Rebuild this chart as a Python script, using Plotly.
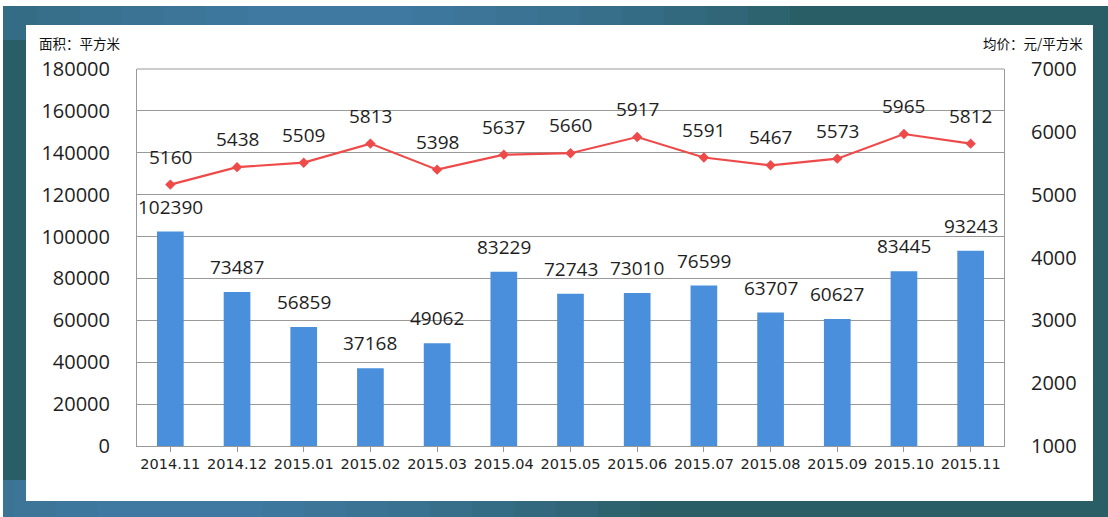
import plotly.graph_objects as go

months = ["2014.11", "2014.12", "2015.01", "2015.02", "2015.03", "2015.04", "2015.05",
          "2015.06", "2015.07", "2015.08", "2015.09", "2015.10", "2015.11"]
area = [102390, 73487, 56859, 37168, 49062, 83229, 72743, 73010, 76599, 63707, 60627, 83445, 93243]
price = [5160, 5438, 5509, 5813, 5398, 5637, 5660, 5917, 5591, 5467, 5573, 5965, 5812]

left_ticks = [0, 20000, 40000, 60000, 80000, 100000, 120000, 140000, 160000, 180000]
right_ticks = [1000, 2000, 3000, 4000, 5000, 6000, 7000]

FONT = "Open Sans, Noto Sans CJK SC, sans-serif"
BAR_C = "#4a8fdc"
LINE_C = "#ee4a4a"
TXT = "#1e1e1e"

W, H = 1108, 517
L, R, T, B = 137, 104, 69, 71
PW, PH = W - L - R, H - T - B


def px(x):
    return (x - L) / PW


def py(y):
    return (H - B - y) / PH


fig = go.Figure()
fig.add_trace(go.Bar(x=months, y=area, marker=dict(color=BAR_C, line=dict(width=0)),
                     yaxis="y", showlegend=False, hoverinfo="skip"))
fig.add_trace(go.Scatter(x=months, y=price, mode="lines+markers", yaxis="y2",
                         line=dict(color=LINE_C, width=2.2),
                         marker=dict(symbol="diamond", size=8, color=LINE_C),
                         showlegend=False, hoverinfo="skip"))

annotations = []
for i, v in enumerate(area):
    annotations.append(dict(x=i, y=v, xref="x", yref="y", text=str(v), showarrow=False,
                            yshift=25, font=dict(family=FONT, size=19, color=TXT)))
for i, v in enumerate(price):
    annotations.append(dict(x=i, y=v, xref="x", yref="y2", text=str(v), showarrow=False,
                            yshift=28, font=dict(family=FONT, size=19, color=TXT)))
annotations.append(dict(x=px(37), y=py(43), xref="paper", yref="paper", text="面积：平方米",
                        showarrow=False, xanchor="left", yanchor="middle",
                        font=dict(family="Noto Sans CJK SC", size=13.5, color="#111111")))
annotations.append(dict(x=px(1085), y=py(43), xref="paper", yref="paper", text="均价：元/平方米",
                        showarrow=False, xanchor="right", yanchor="middle",
                        font=dict(family="Noto Sans CJK SC", size=13.5, color="#111111")))

shapes = [
    # dark frame
    dict(type="rect", xref="paper", yref="paper", x0=px(3), x1=px(W), y0=py(H), y1=py(6),
         fillcolor="#2a5e66", line=dict(width=0), layer="below"),
]
# soft blue glow at top (centred ~x=330) and bottom (centred ~x=180)
for k in range(10):
    half = 460 - k * 42
    op = 0.1
    shapes.append(dict(type="rect", xref="paper", yref="paper", x0=px(max(3, 330 - half)),
                       x1=px(330 + half), y0=py(40), y1=py(6), fillcolor="#4a88c4",
                       line=dict(width=0), layer="below", opacity=op))
    shapes.append(dict(type="rect", xref="paper", yref="paper", x0=px(max(3, 180 - half)),
                       x1=px(180 + half), y0=py(H), y1=py(480), fillcolor="#4a88c4",
                       line=dict(width=0), layer="below", opacity=op))
shapes += [
    dict(type="rect", xref="paper", yref="paper", x0=px(26), x1=px(1093),
         y0=py(501), y1=py(25), fillcolor="white", line=dict(width=0), layer="below"),
    dict(type="line", xref="paper", yref="paper", x0=0, x1=1, y0=1, y1=1,
         line=dict(color="#999999", width=1)),
]

fig.update_layout(
    width=W, height=H,
    margin=dict(l=L, r=R, t=T, b=B),
    paper_bgcolor="white",
    plot_bgcolor="rgba(0,0,0,0)",
    bargap=0.6,
    hovermode=False,
    font=dict(family=FONT, color=TXT),
    xaxis=dict(type="category", showline=True, linecolor="#999999", linewidth=1,
               ticks="outside", ticklen=5, tickcolor="#999999",
               tickfont=dict(family="DejaVu Sans", size=14.5, color=TXT), showgrid=False,
               range=[-0.5, len(months) - 0.5]),
    yaxis=dict(range=[0, 180000], tickvals=left_ticks, ticktext=[str(t) for t in left_ticks],
               showgrid=True, gridcolor="#999999", gridwidth=1, showline=True,
               linecolor="#999999", zeroline=False, ticks="", ticklabelstandoff=22,
               tickfont=dict(size=20, color=TXT)),
    yaxis2=dict(range=[1000, 7000], tickvals=right_ticks, ticktext=[str(t) for t in right_ticks],
                overlaying="y", side="right", showgrid=False, showline=True,
                linecolor="#999999", zeroline=False, ticks="", ticklabelstandoff=22,
                tickfont=dict(size=20, color=TXT)),
    annotations=annotations,
    shapes=shapes,
)

fig.write_html("out.html", config={"displayModeBar": False},
               post_script="document.body.style.margin='0';document.body.style.overflow='hidden';")
